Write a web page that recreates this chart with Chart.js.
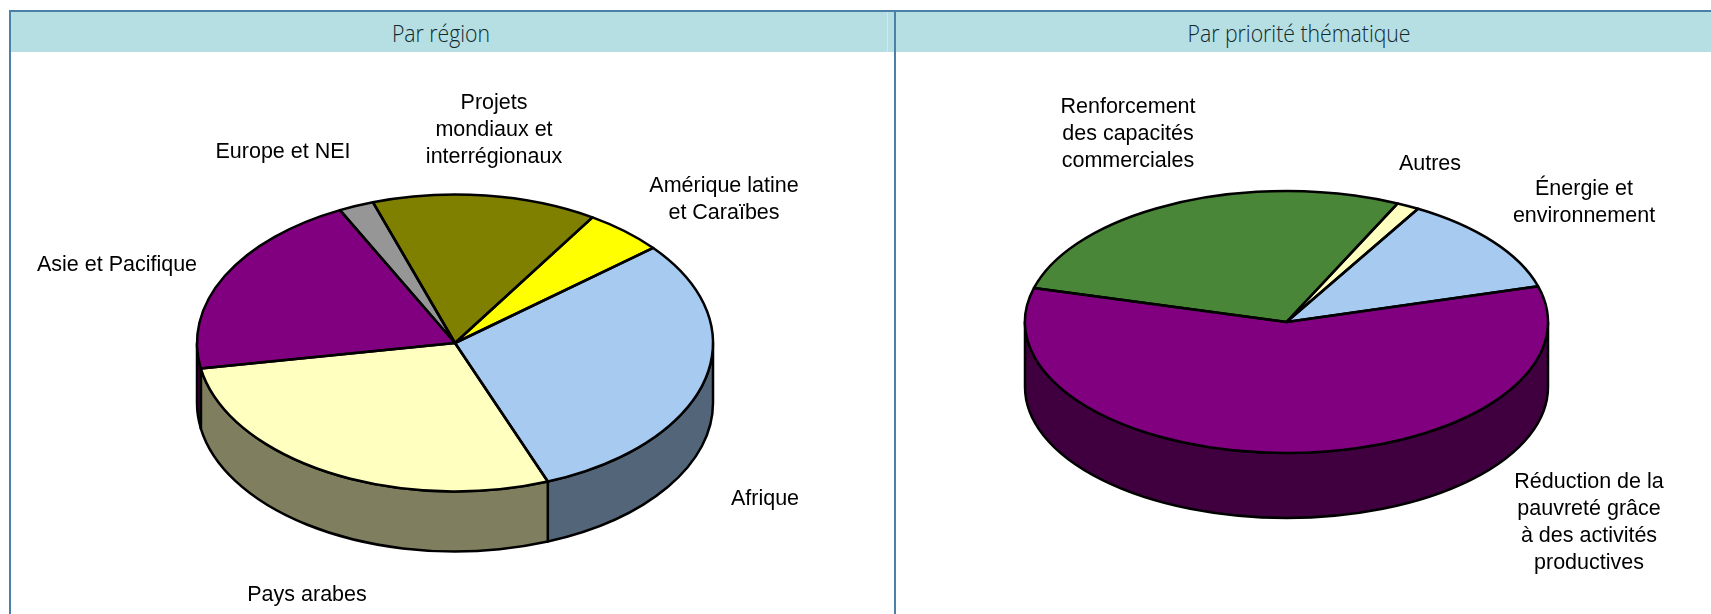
<!DOCTYPE html>
<html lang="fr">
<head>
    <meta charset="UTF-8">
    <title>Par région / Par priorité thématique</title>
    <style>
        html, body {
            margin: 0;
            padding: 0;
            background: #fff;
            overflow: hidden;
        }
        .frame {
            position: absolute;
            left: 9px;
            top: 10px;
            width: 1702px;
            height: 604px;
            border-top: 2px solid #4d80a6;
            border-left: 2px solid #4d80a6;
            box-sizing: border-box;
        }
        .divider {
            position: absolute;
            left: 894px;
            top: 10px;
            width: 2px;
            height: 604px;
            background: #4d80a6;
            z-index: 2;
        }
        .header {
            position: absolute;
            top: 12px;
            height: 40px;
            background: #b6dfe3;
        }
        .header span {
            position: absolute;
            top: 4px;
            white-space: nowrap;
            font: 300 24px "Open Sans", sans-serif;
            color: #10282f;
            transform: translateX(-50%) scaleX(0.885);
        }
        .header i {
            position: absolute;
            left: 876px;
            top: 0;
            width: 1px;
            height: 40px;
            background: #cdeaec;
        }
        canvas {
            position: absolute;
            top: 0;
        }
    </style>
    <script src="https://cdn.jsdelivr.net/npm/chart.js"></script>
</head>
<body>
    <div class="frame"></div>
    <div class="header" style="left:11px;width:883px"><span style="left:430px">Par région</span><i></i></div>
    <div class="header" style="left:896px;width:815px"><span style="left:403px">Par priorité thématique</span></div>
    <canvas id="regionChart" width="883" height="614" style="left:11px"></canvas>
    <canvas id="themeChart" width="815" height="614" style="left:896px"></canvas>
    <div class="divider"></div>
    <script>
        // values in %, clockwise from the first slice
        const regionLabels = [['Afrique'], ['Pays arabes'], ['Asie et Pacifique'], ['Europe et NEI'],
            ['Projets', 'mondiaux et', 'interrégionaux'], ['Amérique latine', 'et Caraïbes']];
        const regionValues = [30.2, 28.1, 20.4, 2.2, 14.1, 5.0];
        const regionColors = ['#a6caf0', '#ffffc0', '#800080', '#969696', '#808000', '#ffff00'];

        const themeLabels = [['Énergie et', 'environnement'],
            ['Réduction de la', 'pauvreté grâce', 'à des activités', 'productives'],
            ['Renforcement', 'des capacités', 'commerciales'], ['Autres']];
        const themeValues = [12.2, 58.6, 27.8, 1.4];
        const themeColors = ['#a6caf0', '#800080', '#4a8638', '#ffffc0'];

        // centre of each text block, page coordinates
        const regionLabelPos = [[765, 499], [307, 595], [117, 265], [283, 152], [494, 130], [724, 200]];
        const themeLabelPos = [[1584, 203], [1589, 523], [1128, 134], [1430, 164]];

        const LINE_HEIGHT = 27;

        // half brightness for the side wall
        function shade(hex) {
            let n = parseInt(hex.slice(1), 16);
            let r = (n >> 16) >> 1, g = ((n >> 8) & 255) >> 1, b = (n & 255) >> 1;
            return `rgb(${r},${g},${b})`;
        }

        const pie3d = {
            id: 'pie3d',
            beforeDatasetsDraw(chart, args, opts) {
                let ctx = chart.ctx;
                let arcs = chart.getDatasetMeta(0).data;
                let cx = arcs[0].x, cy = arcs[0].y;
                ctx.save();
                ctx.lineWidth = 2.5;
                ctx.lineJoin = 'round';
                ctx.strokeStyle = '#000';
                arcs.forEach((arc, i) => {
                    // only the part of the slice in the lower half shows a wall
                    for (let k = -1; k <= 1; k++) {
                        let off = k * 2 * Math.PI;
                        let a = Math.max(arc.startAngle, off);
                        let b = Math.min(arc.endAngle, off + Math.PI);
                        if (b <= a) continue;
                        ctx.beginPath();
                        ctx.ellipse(cx, cy, opts.rx, opts.ry, 0, a, b);
                        ctx.ellipse(cx, cy + opts.depth, opts.rx, opts.ry, 0, b, a, true);
                        ctx.closePath();
                        ctx.fillStyle = shade(chart.data.datasets[0].backgroundColor[i]);
                        ctx.fill();
                        ctx.stroke();
                    }
                });
                ctx.restore();
                // squash the round pie into the ellipse of the top face
                let or = arcs[0].outerRadius;
                ctx.save();
                ctx.translate(cx, cy);
                ctx.scale(opts.rx / or, opts.ry / or);
                ctx.translate(-cx, -cy);
            },
            afterDatasetsDraw(chart, args, opts) {
                let ctx = chart.ctx;
                ctx.restore();
                let arcs = chart.getDatasetMeta(0).data;
                ctx.save();
                ctx.lineWidth = 2.5;
                ctx.lineJoin = 'round';
                ctx.strokeStyle = '#000';
                arcs.forEach(arc => {
                    ctx.beginPath();
                    ctx.moveTo(arc.x, arc.y);
                    ctx.ellipse(arc.x, arc.y, opts.rx, opts.ry, 0, arc.startAngle, arc.endAngle);
                    ctx.closePath();
                    ctx.stroke();
                });
                ctx.restore();
                // slice labels
                ctx.save();
                ctx.font = '21.5px "Liberation Sans", Arial, sans-serif';
                ctx.fillStyle = '#000';
                ctx.textAlign = 'center';
                ctx.textBaseline = 'middle';
                chart.data.labels.forEach((lines, i) => {
                    let x = opts.labelPos[i][0] - opts.left;
                    let y = opts.labelPos[i][1] - (lines.length - 1) * LINE_HEIGHT / 2;
                    lines.forEach((line, j) => ctx.fillText(line, x, y + j * LINE_HEIGHT));
                });
                ctx.restore();
            }
        };

        function drawPie(id, labels, values, colors, rotation, geo) {
            let canvas = document.getElementById(id);
            return new Chart(canvas.getContext('2d'), {
                type: 'pie',
                data: {
                    labels: labels,
                    datasets: [{
                        data: values,
                        backgroundColor: colors,
                        borderWidth: 0,
                        hoverOffset: 0,
                        clip: false
                    }]
                },
                options: {
                    responsive: false,
                    animation: false,
                    rotation: rotation,
                    layout: {
                        padding: {
                            left: geo.cx - geo.rx - geo.left,
                            right: canvas.width - (geo.cx - geo.left) - geo.rx,
                            top: geo.cy - geo.rx,
                            bottom: canvas.height - geo.cy - geo.rx
                        }
                    },
                    plugins: {
                        legend: { display: false },
                        tooltip: { enabled: false },
                        pie3d: geo
                    }
                },
                plugins: [pie3d]
            });
        }

        drawPie('regionChart', regionLabels, regionValues, regionColors, 50.2,
            { left: 11, cx: 455, cy: 343, rx: 258, ry: 148.5, depth: 60, labelPos: regionLabelPos });
        drawPie('themeChart', themeLabels, themeValues, themeColors, 30.2,
            { left: 896, cx: 1286.5, cy: 322, rx: 261.5, ry: 131, depth: 65, labelPos: themeLabelPos });
    </script>
</body>
</html>
